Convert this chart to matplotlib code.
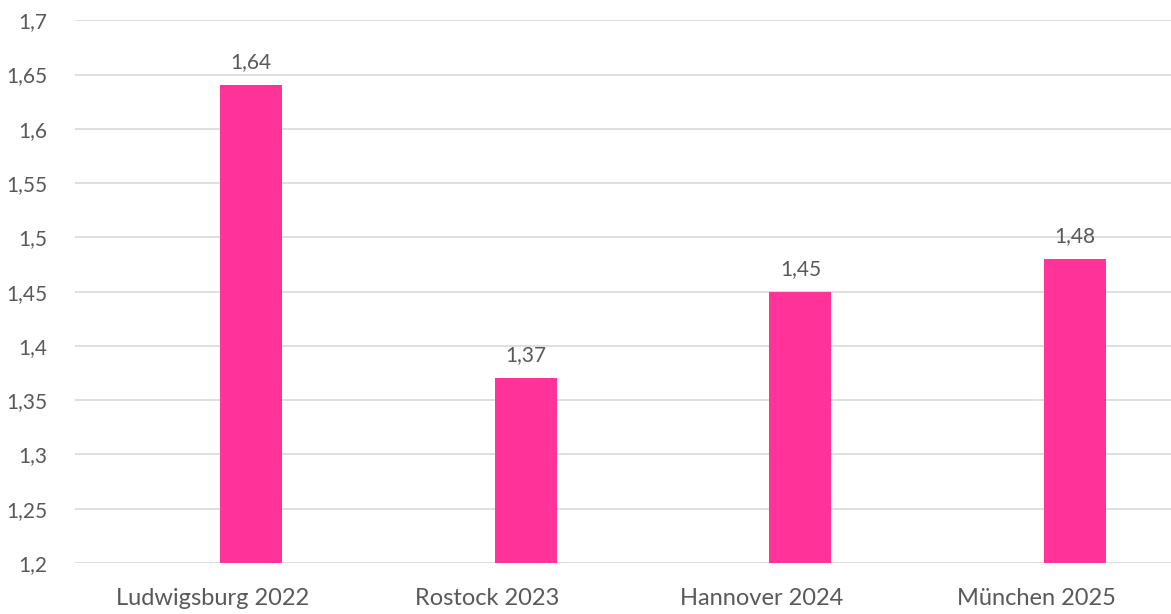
import matplotlib
matplotlib.use("Agg")
from matplotlib import pyplot as plt
from matplotlib.ticker import MultipleLocator, FuncFormatter

# Data
categories = ["Ludwigsburg 2022", "Rostock 2023", "Hannover 2024", "München 2025"]
values = [1.64, 1.37, 1.45, 1.48]

def de_comma(v, pos=None):
    s = f"{v:.2f}".rstrip("0").rstrip(".")
    return s.replace(".", ",")

plt.rcParams['font.family'] = ['Lato', 'DejaVu Sans']
text_col = "#595959"

fig = plt.figure(figsize=(11.71, 6.14), dpi=100)
ax = fig.add_axes([0.064, 0.083, 0.938, 0.884])

# bars sit right of the category centre (Excel clustered layout)
shift = 0.142
x = list(range(len(categories)))
xb = [xi + shift for xi in x]
ax.bar(xb, values, width=0.226, color="#FF3399", zorder=3)

for xi, v in zip(xb, values):
    ax.text(xi, v + 0.012, de_comma(v), ha="center", va="bottom",
            fontsize=15, color=text_col)

ax.set_ylim(1.2, 1.7)
ax.set_xlim(-0.5, 3.5)
ax.yaxis.set_major_locator(MultipleLocator(0.05))
ax.yaxis.set_major_formatter(FuncFormatter(de_comma))
ax.grid(axis="y", color="#d9d9d9", linewidth=1.2, zorder=0)
ax.set_xticks(x)
ax.set_xticklabels(categories)

for s in ax.spines.values():
    s.set_visible(False)
ax.tick_params(axis="both", length=0, colors=text_col)
ax.tick_params(axis="y", pad=20, labelsize=15)
ax.tick_params(axis="x", pad=18, labelsize=17)

plt.savefig("out.png", dpi=100)
